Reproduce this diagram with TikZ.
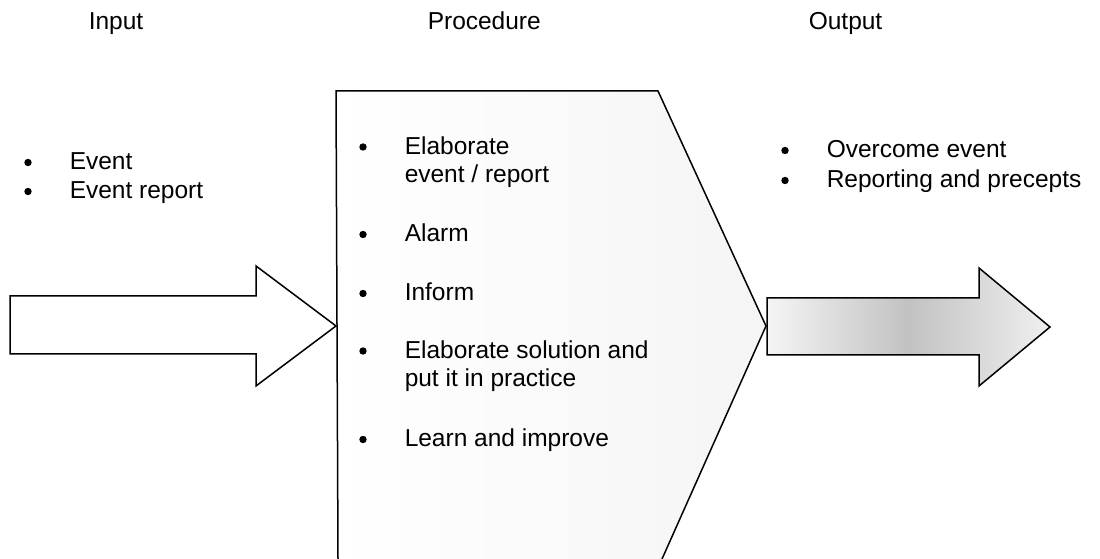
\documentclass[tikz,border=0pt]{standalone}
\usepackage{fontspec}
\setmainfont{Liberation Sans}
\usetikzlibrary{positioning}

\begin{document}
\begin{tikzpicture}[x=1pt, y=1pt, line width=1.5pt,
  font=\fontsize{24.5}{28.5}\selectfont,
  head/.style={anchor=base west, inner sep=0pt},
  item/.style={anchor=base west, inner sep=0pt, align=left},
  block/.style={draw, line join=miter}]
\useasboundingbox (0,0) rectangle (1100,559);

% column heads
\node[head] (hin) at (88,529) {Input};
\node[head] (hproc) at (427,529) {Procedure};
\node[head] (hout) at (808,529) {Output};

% input arrow
\draw[block] (10,263) -- (256,263) -- (256,293) -- (336,233) -- (256,173) -- (256,205) -- (10,205) -- cycle;

% procedure block, open at the bottom
\draw[block, left color=white, right color=black!4] (338,0) -- (336,468) -- (658,468) -- (766,233) -- (662,0);

% output arrow
\draw[block, left color=black!4, right color=black!6, middle color=black!24] (767,261) -- (979,261) -- (979,291) -- (1050,232) -- (979,173) -- (979,204) -- (767,204) -- cycle;

% input items
\node[item] (in1) at (69,389) {Event};
\node[item] (in2) at (69,360) {Event report};

% procedure items (two-line ones sit on their last line)
\node[item] (pr1) at (404,376) {Elaborate\\event / report};
\node[item] (pr2) at (404,317) {Alarm};
\node[item] (pr3) at (404,258) {Inform};
\node[item] (pr4) at (404,172) {Elaborate solution and\\put it in practice};
\node[item] (pr5) at (404,112) {Learn and improve};

% output items
\node[item] (out1) at (826,401) {Overcome event};
\node[item] (out2) at (826,371) {Reporting and precepts};

% bullets
\foreach \n/\up in {in1/0,in2/0,pr1/28.5,pr2/0,pr3/0,pr4/28.5,pr5/0,out1/0,out2/0}
  \fill ([shift={(-41,7.5+\up)}]\n.base west) circle (3.7pt);
\end{tikzpicture}
\end{document}
